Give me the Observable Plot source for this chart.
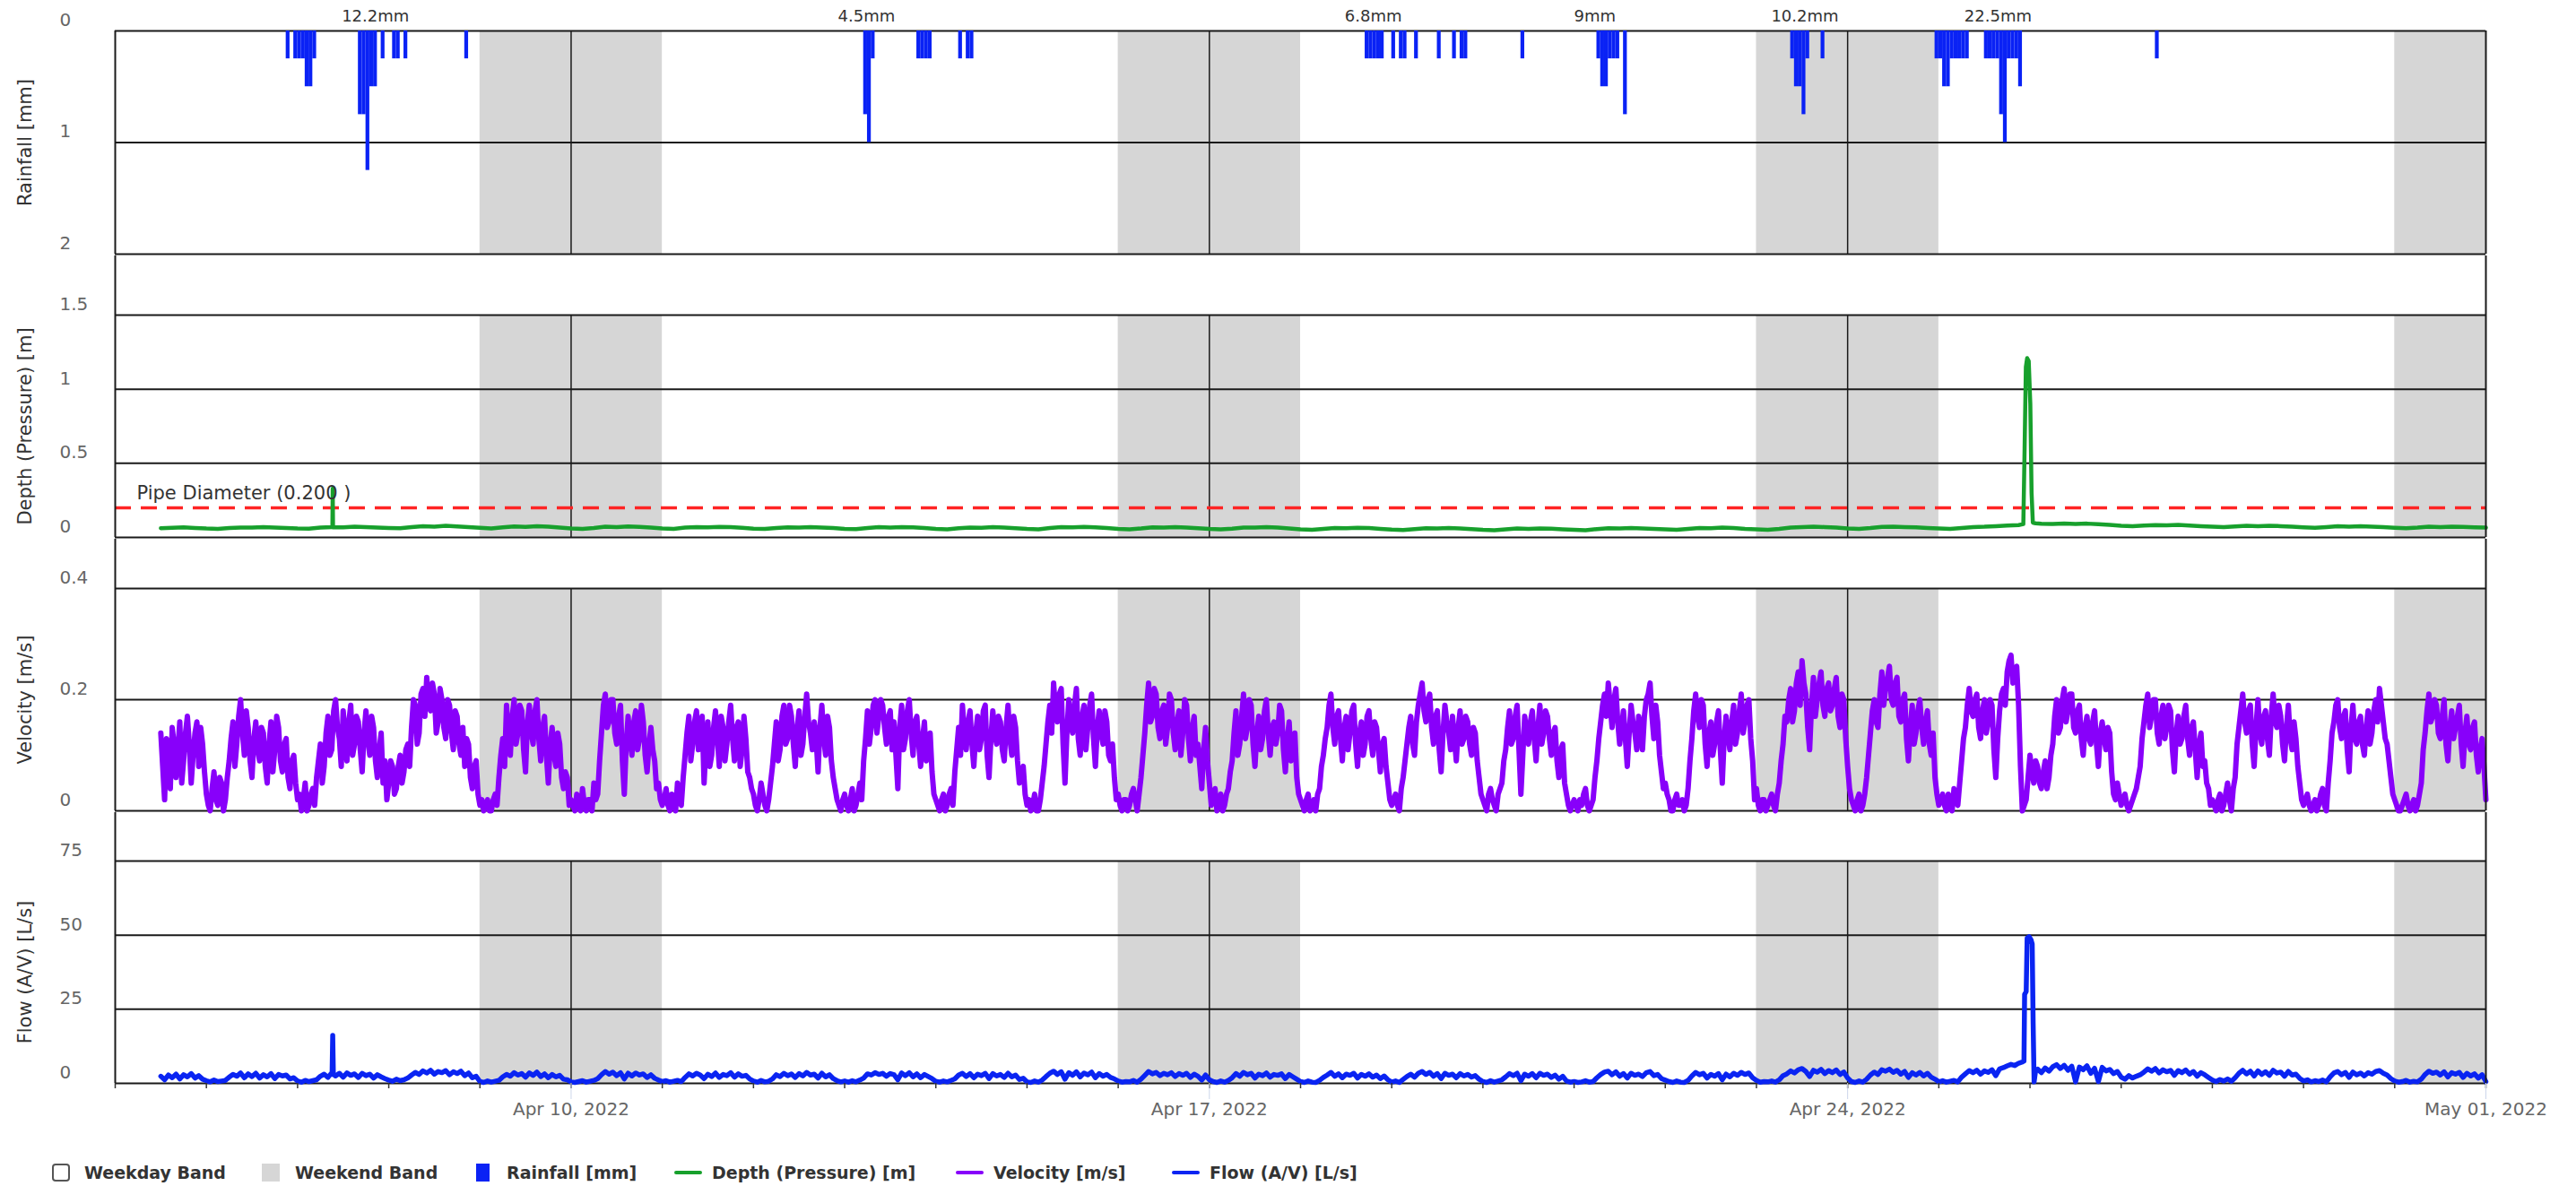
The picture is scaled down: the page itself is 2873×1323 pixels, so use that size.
<!DOCTYPE html>
<html><head><meta charset="utf-8">
<script src="https://cdn.jsdelivr.net/npm/d3@7"></script>
<script src="https://cdn.jsdelivr.net/npm/@observablehq/plot@0.6"></script>
<style>
body{margin:0;background:#fff;font-family:"DejaVu Sans",sans-serif;}
#chart svg{display:block}
#legend{position:relative;height:45px;width:2873px;}
.item{position:absolute;top:12px;height:36px;display:flex;align-items:center;font-weight:bold;font-size:19px;color:#333;white-space:nowrap;}
.sym{display:inline-block;margin-right:16px;box-sizing:border-box;}
</style></head>
<body><div id="chart"></div><div id="legend"></div>
<script>
// ---------- DATA ----------
const xStart = "2022-04-05T00:00", xEnd = "2022-05-01T00:00";
const weekTicks = ["2022-04-10", "2022-04-17", "2022-04-24"];
const weekendStarts = ["2022-04-09", "2022-04-16", "2022-04-23", "2022-04-30"];

// rainfall (hourly totals, mm)
const rainTimes = [
 "2022-04-06T21:00","2022-04-06T23:00","2022-04-07T00:00","2022-04-07T01:00","2022-04-07T02:00","2022-04-07T03:00","2022-04-07T04:00",
 "2022-04-07T16:00","2022-04-07T17:00","2022-04-07T18:00","2022-04-07T19:00","2022-04-07T20:00","2022-04-07T22:00",
 "2022-04-08T01:00","2022-04-08T02:00","2022-04-08T04:00","2022-04-08T20:00",
 "2022-04-13T05:00","2022-04-13T06:00","2022-04-13T07:00","2022-04-13T19:00","2022-04-13T20:00","2022-04-13T21:00","2022-04-13T22:00",
 "2022-04-14T06:00","2022-04-14T08:00","2022-04-14T09:00",
 "2022-04-18T17:00","2022-04-18T18:00","2022-04-18T19:00","2022-04-18T20:00","2022-04-18T21:00",
 "2022-04-19T00:00","2022-04-19T02:00","2022-04-19T03:00","2022-04-19T06:00","2022-04-19T12:00","2022-04-19T16:00","2022-04-19T18:00","2022-04-19T19:00",
 "2022-04-20T10:00",
 "2022-04-21T06:00","2022-04-21T07:00","2022-04-21T08:00","2022-04-21T09:00","2022-04-21T10:00","2022-04-21T11:00","2022-04-21T13:00",
 "2022-04-23T09:00","2022-04-23T10:00","2022-04-23T11:00","2022-04-23T12:00","2022-04-23T13:00","2022-04-23T17:00",
 "2022-04-24T23:00","2022-04-25T00:00","2022-04-25T01:00","2022-04-25T02:00","2022-04-25T03:00","2022-04-25T04:00","2022-04-25T05:00","2022-04-25T06:00","2022-04-25T07:00",
 "2022-04-25T12:00","2022-04-25T13:00","2022-04-25T14:00","2022-04-25T15:00","2022-04-25T16:00","2022-04-25T17:00","2022-04-25T18:00","2022-04-25T19:00","2022-04-25T20:00","2022-04-25T21:00",
 "2022-04-27T09:00"
];
const rainMm = [
 0.25,0.25,0.25,0.25,0.5,0.5,0.25,
 0.75,0.75,1.25,0.5,0.5,0.25,
 0.25,0.25,0.25,0.25,
 0.75,1.0,0.25,0.25,0.25,0.25,0.25,
 0.25,0.25,0.25,
 0.25,0.25,0.25,0.25,0.25,
 0.25,0.25,0.25,0.25,0.25,0.25,0.25,0.25,
 0.25,
 0.25,0.5,0.5,0.25,0.25,0.25,0.75,
 0.25,0.5,0.5,0.75,0.25,0.25,
 0.25,0.25,0.5,0.5,0.25,0.25,0.25,0.25,0.25,
 0.25,0.25,0.25,0.25,0.75,1.0,0.25,0.25,0.25,0.5,
 0.25
];
const rainEventLabels = ["12.2mm", "4.5mm", "6.8mm", "9mm", "10.2mm", "22.5mm"];
const rainEventTimes = ["2022-04-07T20:30","2022-04-13T05:45","2022-04-18T19:10","2022-04-21T05:30","2022-04-23T12:45","2022-04-25T15:35"];

// depth (m), 3-hourly from Apr 5 12:00; row = day
const depthByDay = [
 [0.062,0.065,0.068,0.064],
 [0.060,0.058,0.063,0.067,0.066,0.069,0.067,0.064],
 [0.060,0.059,0.066,0.070,0.068,0.072,0.069,0.066],
 [0.064,0.062,0.070,0.075,0.073,0.078,0.074,0.070],
 [0.065,0.060,0.068,0.074,0.071,0.076,0.072,0.067],
 [0.061,0.058,0.063,0.072,0.070,0.074,0.071,0.066],
 [0.060,0.058,0.066,0.070,0.068,0.071,0.069,0.065],
 [0.059,0.057,0.064,0.068,0.066,0.070,0.067,0.063],
 [0.058,0.056,0.063,0.069,0.067,0.070,0.068,0.064],
 [0.058,0.055,0.062,0.067,0.065,0.069,0.066,0.062],
 [0.057,0.055,0.064,0.070,0.068,0.071,0.068,0.063],
 [0.058,0.055,0.060,0.068,0.067,0.070,0.067,0.062],
 [0.057,0.054,0.059,0.067,0.066,0.069,0.066,0.061],
 [0.055,0.052,0.058,0.064,0.062,0.065,0.063,0.058],
 [0.053,0.050,0.056,0.062,0.060,0.063,0.061,0.056],
 [0.051,0.048,0.054,0.060,0.058,0.061,0.059,0.055],
 [0.052,0.049,0.056,0.062,0.060,0.064,0.061,0.057],
 [0.054,0.051,0.057,0.064,0.062,0.066,0.063,0.058],
 [0.055,0.052,0.058,0.067,0.069,0.072,0.070,0.066],
 [0.060,0.057,0.063,0.071,0.073,0.070,0.068,0.064],
 [0.060,0.057,0.064,0.070,0.072,0.076,0.080,0.083],
 [null,0.092,0.090,0.094,0.091,0.093,0.089,0.085],
 [0.079,0.075,0.080,0.083,0.081,0.084,0.080,0.076],
 [0.072,0.069,0.074,0.078,0.076,0.079,0.076,0.072],
 [0.068,0.065,0.070,0.075,0.073,0.076,0.073,0.069],
 [0.065,0.062,0.066,0.072,0.070,0.073,0.071,0.068],
 [0.066]
];
const depthSpikeTimes = ["2022-04-07T09:10","2022-04-07T09:15","2022-04-07T09:20",
 "2022-04-25T22:15","2022-04-25T22:35","2022-04-25T22:55","2022-04-25T23:15","2022-04-25T23:40","2022-04-26T00:05","2022-04-26T00:25","2022-04-26T00:45","2022-04-26T01:30"];
const depthSpikeVals = [0.069,0.33,0.07, 0.09,0.6,1.15,1.21,1.19,0.9,0.3,0.1,0.095];
const pipeDiameter = 0.2;

// velocity (m/s), readings on the hour from Apr 5 12:00; row = day
const velocityByDay = [
 [0.14,0.02,0.11,0.15,0.06,0.16,0.09,0.17,0.05,0.14,0.08,0.12],
 [0.03,0.00,0.07,0.01,0.05,0.02,0.09,0.16,0.12,0.20,0.10,0.15,0.06,0.16,0.09,0.14,0.05,0.16,0.11,0.15,0.07,0.13,0.04,0.10],
 [0.02,0.00,0.05,0.01,0.04,0.06,0.12,0.08,0.17,0.11,0.20,0.13,0.18,0.09,0.19,0.12,0.16,0.07,0.18,0.10,0.15,0.06,0.14,0.09],
 [0.05,0.08,0.04,0.10,0.07,0.12,0.15,0.19,0.14,0.22,0.24,0.18,0.21,0.16,0.20,0.13,0.19,0.11,0.17,0.10,0.08,0.12,0.04,0.09],
 [0.01,0.00,0.02,0.00,0.03,0.06,0.13,0.19,0.10,0.20,0.14,0.18,0.07,0.19,0.12,0.20,0.09,0.17,0.05,0.15,0.08,0.12,0.04,0.06],
 [0.02,0.00,0.01,0.04,0.00,0.02,0.05,0.03,0.14,0.21,0.16,0.20,0.12,0.19,0.03,0.17,0.10,0.18,0.13,0.16,0.07,0.15,0.09,0.05],
 [0.01,0.04,0.00,0.02,0.05,0.01,0.10,0.17,0.12,0.18,0.14,0.05,0.16,0.10,0.18,0.08,0.15,0.12,0.19,0.09,0.16,0.11,0.13,0.06],
 [0.03,0.00,0.05,0.01,0.02,0.08,0.16,0.11,0.19,0.13,0.17,0.08,0.18,0.12,0.21,0.14,0.16,0.07,0.19,0.10,0.15,0.06,0.02,0.00],
 [0.03,0.00,0.04,0.01,0.05,0.09,0.18,0.15,0.20,0.17,0.19,0.12,0.18,0.16,0.04,0.19,0.13,0.20,0.10,0.17,0.08,0.16,0.11,0.07],
 [0.02,0.00,0.03,0.01,0.04,0.07,0.15,0.19,0.11,0.18,0.08,0.17,0.13,0.19,0.06,0.18,0.12,0.16,0.09,0.19,0.10,0.15,0.05,0.08],
 [0.01,0.00,0.03,0.00,0.05,0.12,0.19,0.23,0.16,0.22,0.05,0.20,0.14,0.22,0.10,0.19,0.15,0.21,0.08,0.18,0.12,0.16,0.09,0.06],
 [0.03,0.00,0.02,0.01,0.04,0.00,0.06,0.14,0.23,0.17,0.21,0.13,0.19,0.15,0.20,0.11,0.18,0.14,0.19,0.09,0.17,0.12,0.04,0.15],
 [0.05,0.02,0.00,0.03,0.01,0.04,0.09,0.18,0.12,0.21,0.15,0.19,0.08,0.17,0.13,0.20,0.10,0.16,0.14,0.18,0.07,0.16,0.11,0.06],
 [0.02,0.00,0.03,0.01,0.00,0.04,0.10,0.15,0.21,0.12,0.18,0.09,0.17,0.14,0.19,0.08,0.16,0.12,0.18,0.10,0.15,0.07,0.13,0.05],
 [0.01,0.03,0.00,0.06,0.12,0.17,0.10,0.19,0.23,0.16,0.21,0.12,0.18,0.07,0.19,0.14,0.17,0.09,0.18,0.13,0.16,0.10,0.14,0.06],
 [0.02,0.00,0.04,0.01,0.03,0.05,0.11,0.18,0.13,0.19,0.03,0.17,0.12,0.18,0.09,0.19,0.14,0.17,0.10,0.15,0.06,0.12,0.03,0.00],
 [0.02,0.00,0.01,0.04,0.00,0.02,0.09,0.16,0.21,0.23,0.15,0.22,0.12,0.18,0.08,0.19,0.14,0.17,0.11,0.20,0.23,0.13,0.16,0.07],
 [0.05,0.02,0.00,0.03,0.01,0.00,0.04,0.13,0.21,0.15,0.19,0.08,0.16,0.12,0.18,0.05,0.17,0.11,0.19,0.14,0.21,0.16,0.20,0.09],
 [0.04,0.00,0.02,0.01,0.03,0.00,0.05,0.12,0.16,0.22,0.18,0.25,0.27,0.21,0.11,0.24,0.20,0.25,0.17,0.23,0.19,0.24,0.15,0.20],
 [0.08,0.02,0.00,0.03,0.01,0.06,0.14,0.20,0.15,0.25,0.22,0.26,0.19,0.24,0.16,0.21,0.09,0.19,0.14,0.20,0.12,0.18,0.10,0.06],
 [0.01,0.03,0.00,0.02,0.04,0.01,0.09,0.15,0.22,0.17,0.21,0.13,0.20,0.16,0.19,0.06,0.18,0.22,0.25,0.28,0.24,0.19,0.00,0.02],
 [0.10,0.05,0.08,0.04,0.09,0.06,0.12,0.20,0.15,0.22,0.18,0.21,0.14,0.19,0.10,0.17,0.12,0.18,0.08,0.16,0.11,0.14,0.03,0.05],
 [0.01,0.03,0.00,0.02,0.04,0.08,0.16,0.21,0.17,0.20,0.12,0.19,0.15,0.18,0.07,0.17,0.13,0.19,0.10,0.16,0.06,0.14,0.09,0.04],
 [0.02,0.00,0.03,0.01,0.05,0.00,0.06,0.15,0.21,0.14,0.19,0.08,0.20,0.12,0.18,0.10,0.21,0.15,0.17,0.09,0.19,0.11,0.13,0.05],
 [0.01,0.03,0.00,0.02,0.01,0.04,0.00,0.09,0.16,0.20,0.13,0.18,0.07,0.19,0.12,0.17,0.10,0.18,0.14,0.20,0.22,0.16,0.12,0.06],
 [0.02,0.00,0.01,0.03,0.00,0.02,0.01,0.05,0.14,0.21,0.17,0.19,0.13,0.20,0.09,0.18,0.15,0.19,0.08,0.17,0.11,0.16,0.07,0.13],
 [0.02]
];
// velocity (m/s), readings on the half hour (hh:30) from Apr 5 12:30; row = day
const velocityHalfByDay = [
 [0.08,0.13,0.04,0.12,0.11,0.05,0.14,0.12,0.10,0.16,0.15,0.07],
 [0.01,0.04,0.02,0.06,0.00,0.06,0.13,0.08,0.17,0.14,0.18,0.09,0.13,0.11,0.15,0.08,0.12,0.07,0.17,0.09,0.12,0.06,0.09,0.05],
 [0.03,0.02,0.00,0.03,0.01,0.09,0.05,0.14,0.10,0.18,0.15,0.08,0.14,0.16,0.10,0.17,0.11,0.14,0.13,0.17,0.09,0.11,0.05,0.02],
 [0.09,0.03,0.08,0.05,0.11,0.08,0.20,0.12,0.21,0.17,0.19,0.23,0.14,0.22,0.15,0.20,0.14,0.18,0.12,0.15,0.13,0.06,0.08,0.03],
 [0.02,0.01,0.00,0.02,0.01,0.10,0.08,0.14,0.17,0.12,0.19,0.11,0.16,0.14,0.18,0.13,0.15,0.10,0.12,0.10,0.14,0.06,0.07,0.01],
 [0.01,0.03,0.00,0.01,0.02,0.00,0.02,0.09,0.19,0.15,0.20,0.14,0.17,0.09,0.12,0.13,0.16,0.11,0.19,0.10,0.12,0.11,0.04,0.02],
 [0.02,0.01,0.03,0.00,0.02,0.06,0.14,0.09,0.16,0.11,0.17,0.12,0.08,0.15,0.13,0.17,0.09,0.16,0.13,0.15,0.08,0.17,0.07,0.04],
 [0.01,0.02,0.03,0.00,0.05,0.12,0.09,0.17,0.12,0.19,0.12,0.15,0.10,0.17,0.16,0.11,0.13,0.15,0.13,0.17,0.09,0.04,0.01,0.02],
 [0.01,0.02,0.00,0.03,0.02,0.13,0.12,0.19,0.14,0.20,0.15,0.17,0.11,0.10,0.15,0.11,0.18,0.14,0.16,0.12,0.13,0.09,0.14,0.03],
 [0.01,0.02,0.00,0.03,0.01,0.11,0.10,0.14,0.16,0.12,0.14,0.11,0.18,0.10,0.13,0.14,0.17,0.11,0.15,0.13,0.17,0.09,0.07,0.03],
 [0.02,0.01,0.00,0.02,0.08,0.16,0.14,0.18,0.21,0.12,0.14,0.16,0.19,0.13,0.17,0.11,0.19,0.13,0.15,0.14,0.18,0.10,0.12,0.02],
 [0.01,0.02,0.00,0.03,0.02,0.03,0.10,0.19,0.16,0.22,0.15,0.18,0.12,0.21,0.14,0.16,0.10,0.20,0.13,0.15,0.10,0.08,0.11,0.09],
 [0.01,0.04,0.02,0.00,0.03,0.07,0.14,0.10,0.17,0.13,0.20,0.12,0.14,0.11,0.18,0.14,0.15,0.12,0.19,0.11,0.13,0.09,0.14,0.03],
 [0.01,0.02,0.00,0.02,0.03,0.08,0.13,0.19,0.15,0.17,0.13,0.15,0.11,0.18,0.12,0.14,0.10,0.17,0.13,0.16,0.11,0.12,0.08,0.02],
 [0.02,0.01,0.04,0.09,0.15,0.12,0.16,0.21,0.18,0.20,0.15,0.17,0.11,0.14,0.16,0.11,0.13,0.15,0.12,0.17,0.12,0.15,0.09,0.03],
 [0.01,0.03,0.02,0.00,0.04,0.09,0.15,0.12,0.17,0.11,0.10,0.14,0.16,0.13,0.15,0.12,0.18,0.13,0.14,0.09,0.11,0.05,0.01,0.01],
 [0.01,0.02,0.03,0.01,0.01,0.06,0.13,0.19,0.17,0.19,0.20,0.16,0.15,0.13,0.14,0.16,0.11,0.15,0.17,0.21,0.17,0.19,0.10,0.04],
 [0.03,0.00,0.02,0.01,0.02,0.01,0.09,0.18,0.17,0.20,0.12,0.14,0.10,0.16,0.11,0.13,0.14,0.16,0.12,0.18,0.14,0.19,0.13,0.02],
 [0.01,0.02,0.00,0.02,0.01,0.03,0.09,0.17,0.20,0.16,0.23,0.19,0.23,0.15,0.19,0.17,0.23,0.19,0.22,0.18,0.22,0.17,0.21,0.13],
 [0.04,0.01,0.02,0.00,0.03,0.10,0.18,0.16,0.21,0.19,0.24,0.20,0.23,0.17,0.20,0.13,0.15,0.12,0.18,0.15,0.16,0.12,0.14,0.03],
 [0.02,0.01,0.03,0.00,0.02,0.05,0.13,0.19,0.18,0.20,0.15,0.18,0.14,0.20,0.11,0.13,0.21,0.19,0.27,0.23,0.26,0.08,0.01,0.06],
 [0.07,0.09,0.05,0.07,0.04,0.10,0.17,0.14,0.20,0.16,0.21,0.15,0.18,0.13,0.15,0.13,0.16,0.12,0.14,0.13,0.15,0.07,0.02,0.03],
 [0.02,0.01,0.01,0.03,0.06,0.13,0.19,0.15,0.20,0.14,0.17,0.13,0.19,0.11,0.14,0.12,0.17,0.13,0.15,0.11,0.12,0.08,0.05,0.01],
 [0.01,0.02,0.00,0.03,0.02,0.04,0.12,0.18,0.16,0.18,0.12,0.15,0.14,0.17,0.13,0.17,0.16,0.19,0.12,0.15,0.13,0.16,0.08,0.02],
 [0.02,0.01,0.01,0.00,0.03,0.01,0.05,0.14,0.19,0.15,0.17,0.11,0.15,0.13,0.16,0.12,0.15,0.12,0.18,0.16,0.19,0.13,0.09,0.03],
 [0.01,0.00,0.02,0.01,0.01,0.00,0.03,0.11,0.18,0.16,0.20,0.14,0.17,0.12,0.15,0.13,0.17,0.12,0.14,0.12,0.15,0.10,0.11,0.08]
];

// flow (L/s), hourly from Apr 5 12:00; row = day
const flowByDay = [
 [2.4,1.2,2.8,1.9,3.1,1.5,2.9,2.2,3.3,1.8,2.6,1.4],
 [0.9,0.5,1.1,0.6,0.8,1.0,2.1,3.0,2.4,3.5,1.9,3.2,2.3,3.4,1.8,2.9,2.2,3.3,1.6,3.0,2.5,2.8,1.5,1.9],
 [0.8,0.4,1.0,0.6,0.9,1.2,2.4,3.1,2.0,3.6,2.5,3.4,2.1,3.5,2.7,3.2,2.0,3.4,2.6,3.1,1.8,2.9,2.2,1.6],
 [1.1,0.7,1.4,0.9,1.2,1.8,2.8,3.7,3.0,4.2,3.5,4.4,3.1,4.0,3.6,4.3,2.9,3.9,3.3,4.1,2.6,3.5,1.9,2.4],
 [0.6,0.3,0.8,0.4,0.7,1.0,2.2,3.0,2.4,3.6,2.8,3.3,2.1,3.5,2.7,3.8,2.3,3.2,1.9,3.0,2.2,2.7,1.4,1.2],
 [0.5,0.3,0.6,0.9,0.4,0.7,1.0,1.6,2.9,4.0,3.1,3.8,2.6,3.6,1.5,3.4,2.5,3.5,2.8,3.2,2.0,2.9,1.7,1.1],
 [0.6,0.9,0.4,0.7,1.0,0.6,2.0,3.2,2.5,3.4,2.8,1.6,3.1,2.3,3.5,2.0,3.0,2.6,3.6,2.1,3.2,2.4,2.7,1.5],
 [0.8,0.4,1.0,0.5,0.7,1.5,2.9,2.3,3.4,2.6,3.2,2.0,3.3,2.5,3.7,2.8,3.1,1.8,3.4,2.2,2.9,1.6,0.9,0.5],
 [0.8,0.4,0.9,0.5,1.1,1.8,3.2,2.8,3.6,3.0,3.4,2.4,3.3,2.9,1.2,3.5,2.6,3.6,2.2,3.2,1.9,3.0,2.3,1.6],
 [0.7,0.4,0.8,0.5,1.0,1.5,2.8,3.4,2.3,3.3,1.9,3.1,2.6,3.4,1.6,3.3,2.5,3.0,2.0,3.4,2.2,2.8,1.3,1.7],
 [0.5,0.3,0.8,0.4,1.1,2.3,3.4,4.1,3.0,3.9,1.4,3.6,2.7,3.9,2.2,3.5,2.9,3.8,1.9,3.3,2.4,3.0,2.0,1.5],
 [0.8,0.4,0.6,0.5,1.0,0.4,1.4,2.7,4.0,3.2,3.7,2.6,3.4,2.9,3.6,2.3,3.3,2.7,3.4,2.0,3.1,2.4,1.1,2.8],
 [1.2,0.6,0.3,0.8,0.4,1.0,1.9,3.3,2.4,3.7,2.9,3.4,1.8,3.1,2.6,3.5,2.1,3.0,2.7,3.2,1.6,3.0,2.2,1.4],
 [0.6,0.3,0.8,0.4,0.3,1.0,2.0,2.8,3.7,2.4,3.2,1.9,3.1,2.7,3.4,1.8,3.0,2.4,3.2,2.1,2.8,1.6,2.5,1.2],
 [0.4,0.8,0.3,1.3,2.3,3.1,2.1,3.4,4.0,3.0,3.7,2.4,3.3,1.6,3.4,2.7,3.1,1.9,3.3,2.5,3.0,2.1,2.6,1.4],
 [0.6,0.3,0.9,0.4,0.8,1.2,2.2,3.3,2.6,3.4,0.9,3.1,2.4,3.3,1.9,3.4,2.7,3.1,2.0,2.8,1.4,2.4,0.8,0.4],
 [0.6,0.3,0.5,0.9,0.4,0.6,1.9,3.0,3.8,4.1,2.9,3.9,2.4,3.3,1.8,3.4,2.7,3.1,2.3,3.6,4.0,2.6,3.0,1.6],
 [1.1,0.6,0.3,0.8,0.4,0.3,1.0,2.5,3.7,2.9,3.4,1.8,3.0,2.4,3.3,1.2,3.1,2.2,3.4,2.7,3.7,3.0,3.5,1.9],
 [1.0,0.4,0.6,0.5,0.8,0.4,1.2,2.6,3.2,4.2,3.5,4.6,5.0,4.0,2.3,4.4,3.8,4.7,3.3,4.3,3.6,4.5,3.0,3.8],
 [1.8,0.6,0.3,0.8,0.4,1.4,2.8,3.8,3.0,4.6,4.1,4.8,3.7,4.4,3.1,4.0,2.0,3.6,2.8,3.7,2.5,3.4,2.1,1.4],
 [0.5,0.9,0.4,0.7,1.0,0.5,2.1,3.2,4.3,3.6,4.4,3.1,4.2,3.7,4.6,2.6,4.9,5.3,5.9,6.4,6.0,6.8,7.2,null],
 [null,null,4.8,3.6,5.2,4.1,5.6,6.3,5.0,6.1,4.4,5.8,0.5,5.5,4.6,5.9,3.4,5.1,0.6,5.4,4.2,4.7,3.3,4.0],
 [2.1,1.4,2.6,1.8,2.4,2.9,3.8,4.9,4.1,5.0,3.5,4.6,3.9,4.4,2.7,4.3,3.6,4.5,3.1,4.0,2.4,3.6,2.9,2.0],
 [1.1,0.6,1.3,0.8,1.5,0.7,1.9,3.4,4.4,3.2,4.1,2.5,4.2,3.0,3.9,2.7,4.4,3.5,3.8,2.4,4.0,2.8,3.1,1.7],
 [0.8,1.2,0.5,0.9,0.6,1.1,0.5,2.2,3.5,4.0,2.9,3.7,2.0,3.8,2.9,3.5,2.5,3.6,3.1,4.0,4.3,3.4,2.8,1.6],
 [0.8,0.4,0.6,1.0,0.4,0.7,0.5,1.4,3.0,4.1,3.4,3.8,2.8,3.9,2.2,3.6,3.1,3.7,2.0,3.4,2.5,3.2,1.8,2.9],
 [0.6]
];
const flowSpikeTimes = ["2022-04-07T09:05","2022-04-07T09:15","2022-04-07T09:25",
 "2022-04-25T22:25","2022-04-25T22:35","2022-04-25T23:00","2022-04-25T23:15","2022-04-25T23:45","2022-04-26T00:15","2022-04-26T00:35","2022-04-26T00:50","2022-04-26T01:05","2022-04-26T01:30"];
const flowSpikeVals = [3.0,16.2,3.1, 7.5,30,31,49,49.5,48.5,47,20,0.5,4.5];

// ---------- BUILD ----------
const C = {grid:"#1a1a1a", band:"#d6d6d6", rain:"#0a22f5", depth:"#17a02c", vel:"#8800fa", flow:"#0a24f2", pipe:"#ff2424"};
const xDomain = [new Date(xStart), new Date(xEnd)];
const weekLines = weekTicks.map(s => new Date(s + "T00:00"));
const bands = weekendStarts.map(s => {
  const a = new Date(s + "T00:00");
  const b = d3.timeDay.offset(a, 2);
  return {x1: a, x2: b > xDomain[1] ? xDomain[1] : b};
});
const seriesStart = new Date("2022-04-05T12:00");
function fromDays(rows, stepHours, offsetMinutes = 0) {
  const out = [];
  rows.forEach((row, d) => {
    const base0 = d === 0 ? seriesStart : d3.timeDay.offset(new Date("2022-04-05T00:00"), d);
    const base = d3.timeMinute.offset(base0, offsetMinutes);
    row.forEach((v, i) => { if (v != null) out.push({t: d3.timeHour.offset(base, i * stepHours), v}); });
  });
  return out;
}
function withSpikes(series, times, vals) {
  return series.concat(times.map((s, i) => ({t: new Date(s), v: vals[i]}))).sort((a, b) => a.t - b.t);
}
const rain = rainTimes.map((s, i) => ({t: new Date(s), mm: rainMm[i]}));
const depth = withSpikes(fromDays(depthByDay, 3), depthSpikeTimes, depthSpikeVals);
const velocity = fromDays(velocityByDay, 1).concat(fromDays(velocityHalfByDay, 1, 30)).sort((a, b) => a.t - b.t);
const flow = withSpikes(fromDays(flowByDay, 1), flowSpikeTimes, flowSpikeVals);

const W = 2873, ML = 128, MR = 101;
function panel(o) {
  const [y0, y1] = o.yDomain;
  const marks = [
    Plot.rect(bands, {x1: "x1", x2: "x2", y1: y0, y2: y1, fill: C.band}),
    Plot.ruleY(o.ticks, {stroke: C.grid, strokeWidth: 2}),
    Plot.ruleX(weekLines, {y1: y0, y2: y1, stroke: C.grid, strokeWidth: 1.5}),
    ...o.marks,
    Plot.ruleX(xDomain, o.fullBorder ? {stroke: C.grid, strokeWidth: 2} : {y1: y0, y2: y1, stroke: C.grid, strokeWidth: 2}),
    Plot.text(o.ticks, {y: d => d, frameAnchor: "left", textAnchor: "start", dx: -62, dy: -12, fill: "#666", fontSize: 20}),
    Plot.text([o.title], {y: [(y0 + y1) / 2], frameAnchor: "left", textAnchor: "middle", dx: -100, rotate: -90, fill: "#333", fontSize: 21}),
    ...(o.extra || [])
  ];
  return Plot.plot({
    width: W, height: o.height, marginLeft: ML, marginRight: MR, marginTop: 0, marginBottom: o.marginBottom,
    x: o.xAxis ? {type: "time", domain: xDomain} : {type: "time", domain: xDomain, axis: null},
    y: {domain: o.yDomain, range: o.yRange, axis: null},
    style: {fontFamily: "DejaVu Sans", fontSize: "20px", color: "#666", background: "transparent", overflow: "visible"},
    marks
  });
}

const chart = document.getElementById("chart");
chart.append(panel({
  height: 285, marginBottom: 2, yDomain: [0, 2], yRange: [34, 283], ticks: [0, 1, 2], title: "Rainfall [mm]",
  marks: [Plot.rect(rain, {x1: "t", x2: d => d3.timeHour.offset(d.t, 1), y1: 0, y2: "mm", fill: C.rain})],
  extra: [Plot.text(rainEventLabels, {x: rainEventTimes.map(s => new Date(s)), frameAnchor: "top", lineAnchor: "middle", dy: 18, fill: "#333", fontSize: 18})]
}));
chart.append(panel({
  height: 316, marginBottom: 2, yDomain: [0, 1.5], yRange: [314, 66], ticks: [0, 0.5, 1, 1.5], title: "Depth (Pressure) [m]", fullBorder: true,
  marks: [
    Plot.ruleY([pipeDiameter], {stroke: C.pipe, strokeWidth: 3.5, strokeDasharray: "18,11"}),
    Plot.line(depth, {x: "t", y: "v", stroke: C.depth, strokeWidth: 4.5})
  ],
  extra: [Plot.text([`Pipe Diameter (${pipeDiameter.toFixed(3)} )`], {x: [xDomain[0]], y: [pipeDiameter], textAnchor: "start", dx: 24, dy: -16, fill: "#333", fontSize: 21})]
}));
chart.append(panel({
  height: 305, marginBottom: 2, yDomain: [0, 0.4], yRange: [303, 55], ticks: [0, 0.2, 0.4], title: "Velocity [m/s]", fullBorder: true,
  marks: [Plot.line(velocity, {x: "t", y: "v", stroke: C.vel, strokeWidth: 6, strokeLinejoin: "round"})]
}));
const dayTicks = d3.timeDay.range(xDomain[0], d3.timeDay.offset(xDomain[1], 1));
chart.append(panel({
  height: 372, marginBottom: 70, yDomain: [0, 75], yRange: [302, 54], ticks: [0, 25, 50, 75], title: "Flow (A/V) [L/s]", fullBorder: true, xAxis: true,
  marks: [Plot.line(flow, {x: "t", y: "v", stroke: C.flow, strokeWidth: 5.5})],
  extra: [
    Plot.axisX({ticks: dayTicks, tickSize: 6, tickFormat: () => "", stroke: "#333", strokeWidth: 1.5}),
    Plot.axisX({ticks: [...weekLines, xDomain[1]], tickSize: 18, tickPadding: 3, tickFormat: d3.timeFormat("%b %d, %Y"), stroke: "#ccd6eb", fill: "#666", fontSize: 20})
  ]
}));

// ---------- LEGEND ----------
const legendItems = [
  {label: "Weekday Band", kind: "box"},
  {label: "Weekend Band", kind: "band"},
  {label: "Rainfall [mm]", kind: "bar"},
  {label: "Depth (Pressure) [m]", kind: "line", color: C.depth},
  {label: "Velocity [m/s]", kind: "line", color: C.vel},
  {label: "Flow (A/V) [L/s]", kind: "line", color: C.flow}
];
const legendLeft = [58, 292, 531, 752, 1066, 1307];
const lg = document.getElementById("legend");
legendItems.forEach((it, i) => {
  const el = document.createElement("div");
  el.className = "item";
  el.style.left = legendLeft[i] + "px";
  const s = document.createElement("span");
  s.className = "sym";
  if (it.kind === "box") Object.assign(s.style, {width: "20px", height: "20px", border: "2.5px solid #555", borderRadius: "4px", background: "#fff"});
  if (it.kind === "band") Object.assign(s.style, {width: "20px", height: "20px", background: C.band, marginRight: "17px"});
  if (it.kind === "bar") Object.assign(s.style, {width: "15px", height: "20px", background: C.rain, marginRight: "19px"});
  if (it.kind === "line") Object.assign(s.style, {width: "31px", height: "4px", background: it.color, borderRadius: "2px", marginRight: "11px"});
  el.append(s, document.createTextNode(it.label));
  lg.append(el);
});
</script>
</body></html>
